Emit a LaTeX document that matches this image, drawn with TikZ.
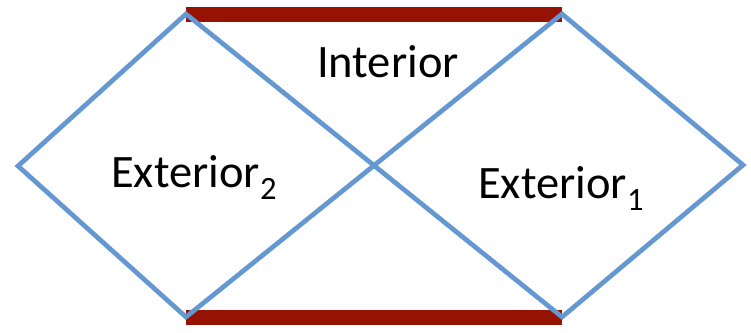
\documentclass[tikz,border=0pt]{standalone}
\usepackage{fontspec}
\setmainfont{Carlito}
\definecolor{edgeblue}{RGB}{99,152,210}
\definecolor{barred}{RGB}{150,18,2}
\tikzset{
  boundary/.style={line width=15pt, barred, line cap=butt},
  lightray/.style={line width=4.6pt, edgeblue, line cap=butt, line join=miter},
  shade/.style={line width=4.6pt, black, opacity=0.18, line cap=butt},
  barshade/.style={line width=15pt, black, opacity=0.18, line cap=butt},
  region/.style={inner sep=0pt, font=\fontsize{46.5}{50}\selectfont, anchor=base west}
}
\begin{document}
\begin{tikzpicture}[x=1pt,y=-1pt]
\useasboundingbox (0,0) rectangle (751,332);
% corners of the two wedges
\coordinate (L)  at (18,166);
\coordinate (TL) at (186,14);
\coordinate (TR) at (562,14);
\coordinate (R)  at (743,165);
\coordinate (BR) at (562,317);
\coordinate (BL) at (186,317);
% soft drop shadows
\begin{scope}[shift={(1.5,2.5)}]
  \draw[barshade] (TL) -- (TR);
  \draw[barshade] (BL) -- (BR);
  \draw[shade] (L) -- (TL) -- (BR) -- (R) -- (TR) -- (BL) -- cycle;
\end{scope}
% horizon bars
\draw[boundary] (TL) -- (TR);
\draw[boundary] (BL) -- (BR);
% light rays
\draw[lightray] (L) -- (TL) -- (BR) -- (R) -- (TR) -- (BL) -- cycle;
% labels
\node[region] (int) at (317,77) {Interior};
\node[region] (ext2) at (111,187) {Exterior\textsubscript{2}};
\node[region] (ext1) at (478,198) {Exterior\textsubscript{1}};
\end{tikzpicture}
\end{document}
